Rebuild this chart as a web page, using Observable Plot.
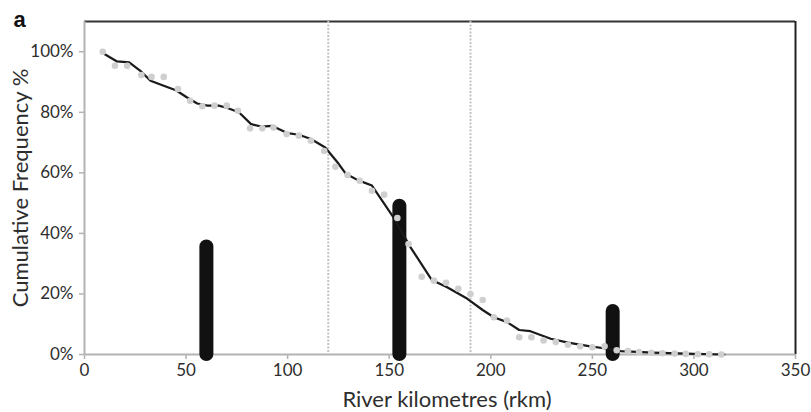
<!DOCTYPE html>
<html>
<head>
<meta charset="utf-8">
<script src="https://cdn.jsdelivr.net/npm/d3@7"></script>
<script src="https://cdn.jsdelivr.net/npm/@observablehq/plot@0.6"></script>
<style>
  html, body { margin: 0; padding: 0; background: #fff; }
</style>
</head>
<body>
<div id="chart"></div>
<script>
// Observed cumulative frequency (%) of detections along the river (grey points)
const dotKm = [9, 15, 21, 28, 33, 39, 46, 52, 58, 64, 70, 75.5, 81.5, 87.5, 93, 99.5, 105.5, 111.5, 118, 123.5,
  129.5, 135.5, 141.5, 147.5, 154, 159.5, 166, 172, 178, 184, 190, 196, 201.5, 208, 214, 220,
  226, 232, 238, 244, 250, 256, 262, 267.5, 273, 279, 284.5, 290.5, 296, 302, 307.5, 313.5];
const dotFreq = [100, 95.4, 95.4, 92.3, 91.7, 91.7, 87.7, 83.8, 82, 82.2, 82.2, 80.5, 74.7, 74.7, 75, 72.8, 72.3, 70.6, 67.2, 62,
  59.3, 57.4, 54.1, 52.8, 45.1, 36.5, 25.7, 24.4, 23.7, 21.7, 20, 18, 12.3, 11.2, 5.7, 5.7,
  4.6, 4.1, 3.2, 2.7, 2.4, 2.7, 1.4, 1.1, 0.8, 0.6, 0.4, 0.3, 0.2, 0.1, 0.05, 0];

// Smoothed trend of the cumulative frequency (black line)
const trendKm = [10, 16, 22, 27.5, 32.5, 39, 45, 50.5, 55.5, 60.5, 66, 70, 76, 82, 87, 92.5, 100, 105.5, 111.5, 118.5,
  124.5, 128.5, 134.5, 141.5, 151.5, 160.5, 171, 178.5, 188.5, 196, 201.5, 208, 214, 219.5,
  229.5, 238, 249, 257.5, 264, 280, 300, 315];
const trendFreq = [99.2, 96.8, 96.5, 93.7, 90.4, 88.8, 87.3, 84.9, 82.9, 82.2, 82.2, 81.5, 80, 76.1, 75.3, 75.5, 73.1, 72.6, 71.2, 68.4,
  63.5, 59.8, 57.6, 55.8, 45.9, 35.4, 24.6, 22.2, 18.4, 14.7, 12.3, 10.7, 8.1, 7.7,
  5.2, 3.9, 2.7, 1.9, 1.1, 0.6, 0.2, 0];

// Release / receiver sites shown as vertical bars (height in %)
const barKm = [60, 155, 260];
const barFreq = [35.5, 49, 14.2];

// Reach boundaries (dashed verticals)
const dividerKm = [120, 190];

// Axes
const xDomain = [0, 350];
const yDomain = [0, 110];
const xTicks = [0, 50, 100, 150, 200, 250, 300, 350];
const yTicks = [0, 20, 40, 60, 80, 100];
const xTitle = "River kilometres (rkm)";
const yTitle = "Cumulative Frequency %";
const panelLabel = "a";

const dots = dotKm.map((km, i) => ({km, freq: dotFreq[i]}));
const trend = trendKm.map((km, i) => ({km, freq: trendFreq[i]}));
const bars = barKm.map((km, i) => ({km, freq: barFreq[i]}));

const font = "Lato, 'Open Sans', sans-serif";
const textColor = "#2e2e2e";
const axisGrey = "#b3b3b3";

const chart = Plot.plot({
  width: 811,
  height: 412,
  marginLeft: 84,
  marginRight: 16,
  marginTop: 21,
  marginBottom: 58,
  style: {fontFamily: font, background: "#fff", overflow: "visible"},
  x: {domain: xDomain},
  y: {domain: yDomain},
  marks: [
    // frame: grey axes on left/bottom, dark lines on top/right
    Plot.ruleY([yDomain[1]], {stroke: "#333", strokeWidth: 2}),
    Plot.ruleX([xDomain[1]], {stroke: "#222", strokeWidth: 2}),
    Plot.ruleX([xDomain[0]], {stroke: axisGrey, strokeWidth: 2}),
    Plot.ruleY([yDomain[0]], {stroke: axisGrey, strokeWidth: 2}),
    Plot.ruleX(dividerKm, {stroke: "#c4c4c4", strokeWidth: 2, strokeDasharray: "2,1.5"}),
    Plot.axisY(yTicks, {
      tickSize: 5, tickPadding: 6, stroke: axisGrey, strokeWidth: 1.5,
      fill: textColor, fontSize: 17, tickFormat: d => d + "%", label: null
    }),
    Plot.axisX(xTicks, {
      tickSize: 5, tickPadding: 4, stroke: axisGrey, strokeWidth: 1.5,
      fill: textColor, fontSize: 17, label: null
    }),
    // site bars
    Plot.ruleX(bars, {x: "km", y1: 0, y2: "freq", stroke: "#111", strokeWidth: 14, strokeLinecap: "round"}),
    // trend line and observations
    Plot.line(trend, {x: "km", y: "freq", stroke: "#1a1a1a", strokeWidth: 2.2}),
    Plot.dot(dots, {x: "km", y: "freq", r: 3.3, fill: "#cfcfcf"}),
    // titles
    Plot.text([yTitle], {
      frameAnchor: "left", dx: -64, rotate: -90, textAnchor: "middle", lineAnchor: "middle",
      fontSize: 22, fill: textColor
    }),
    Plot.text([xTitle], {
      frameAnchor: "bottom", dx: 7, dy: 52, textAnchor: "middle", lineAnchor: "bottom",
      fontSize: 22, fill: textColor
    }),
    Plot.text([panelLabel], {
      frameAnchor: "top-left", dx: -71, dy: 5, lineAnchor: "bottom", textAnchor: "start",
      fontFamily: "'Liberation Sans', Arial, sans-serif", fontWeight: "bold", fontSize: 22, fill: "#111"
    })
  ]
});

document.getElementById("chart").appendChild(chart);
</script>
</body>
</html>
